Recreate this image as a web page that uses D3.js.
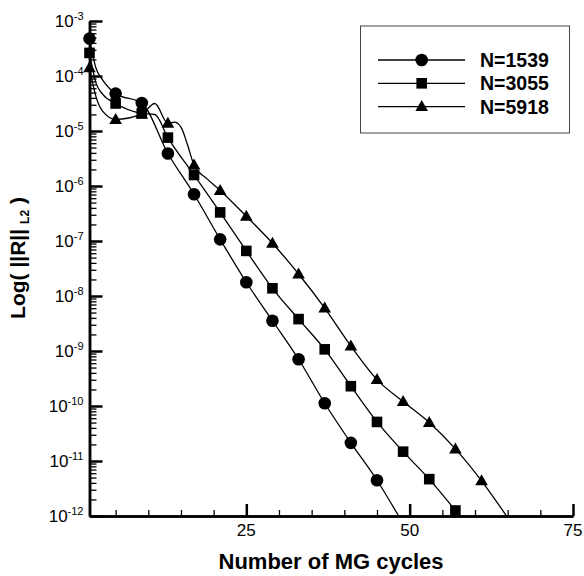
<!DOCTYPE html>
<html>
<head>
<meta charset="utf-8">
<script src="https://cdn.jsdelivr.net/npm/d3@7"></script>
<style>
  body { margin: 0; background: #fff; }
  svg { display: block; font-family: "Liberation Sans", Arial, sans-serif; }
</style>
</head>
<body>
<svg></svg>
<script>
// cycles (markers are drawn every 4th cycle: 1, 5, 9, ...)
const cycles1539 = [1, 2, 3, 5, 9, 13, 17, 21, 25, 29, 33, 37, 41, 45, 49];
const cycles3055 = [1, 2, 3, 5, 9, 11, 13, 17, 21, 25, 29, 33, 37, 41, 45, 49, 53, 57];
const cycles5918 = [1, 2, 3, 5, 9, 11, 13, 14, 15, 16, 17, 19, 21, 25, 29, 33, 37, 41, 45, 49, 53, 57, 61, 65];

// log10 of the L2 residual, per grid size
const logR1539 = [-3.32, -3.86, -4.07, -4.32, -4.49, -5.41, -6.15, -6.97, -7.75, -8.45, -9.15, -9.95, -10.67, -11.35, -12.14];
const logR3055 = [-3.58, -4.13, -4.33, -4.50, -4.68, -4.70, -5.12, -5.80, -6.48, -7.18, -7.86, -8.42, -8.97, -9.64, -10.29, -10.83, -11.33, -11.90];
const logR5918 = [-3.85, -4.38, -4.64, -4.79, -4.69, -4.50, -4.86, -4.84, -4.93, -5.25, -5.62, -5.87, -6.08, -6.55, -7.04, -7.60, -8.22, -8.91, -9.52, -9.92, -10.30, -10.78, -11.36, -12.03];

const seriesNames = ["N=1539", "N=3055", "N=5918"];
const seriesShapes = ["circle", "square", "triangle"];

const xMajor = [25, 50, 75];
const xMinor = [5, 10, 15, 20, 30, 35, 40, 45, 55, 60, 65, 70];
const yExponents = [-12, -11, -10, -9, -8, -7, -6, -5, -4, -3];

const W = 584, H = 576;
const plot = { left: 89.5, right: 573, top: 21, bottom: 516 };

const svg = d3.select("svg").attr("width", W).attr("height", H);

const x = d3.scaleLinear().domain([1, 75]).range([plot.left, plot.right]);
const y = d3.scaleLog().domain([1e-12, 1e-3]).range([plot.bottom, plot.top]);

// minor log ticks 2..9 in every decade
const yMinor = [];
yExponents.slice(0, -1).forEach(e => {
  for (let k = 2; k <= 9; k++) yMinor.push(k * Math.pow(10, e));
});

// ---- axes ----
const styleAxis = (g, w) => {
  g.selectAll(".domain").attr("stroke", "#000").attr("stroke-width", 2.5);
  g.selectAll(".tick line").attr("stroke", "#000").attr("stroke-width", w);
  g.selectAll(".tick text").remove();
};

svg.append("g")
  .attr("transform", `translate(${plot.left},0)`)
  .call(d3.axisLeft(y).tickValues(yMinor).tickSizeInner(-7).tickSizeOuter(0))
  .call(g => styleAxis(g, 1.3));

svg.append("g")
  .attr("transform", `translate(${plot.left},0)`)
  .call(d3.axisLeft(y).tickValues(yExponents.map(e => Math.pow(10, e))).tickSizeInner(-13).tickSizeOuter(0))
  .call(g => styleAxis(g, 2.5));

svg.append("g")
  .attr("transform", `translate(0,${plot.bottom})`)
  .call(d3.axisBottom(x).tickValues(xMinor).tickSizeInner(-6).tickSizeOuter(0))
  .call(g => styleAxis(g, 1.3));

svg.append("g")
  .attr("transform", `translate(0,${plot.bottom})`)
  .call(d3.axisBottom(x).tickValues(xMajor).tickSizeInner(-12).tickSizeOuter(0))
  .call(g => styleAxis(g, 2.5));

// y tick labels with superscript exponents
const yLab = svg.append("g").attr("font-size", 17).attr("text-anchor", "end");
yExponents.forEach(e => {
  const t = yLab.append("text")
    .attr("x", plot.left - 6)
    .attr("y", y(Math.pow(10, e)) + 6);
  t.append("tspan").text("10");
  t.append("tspan").attr("font-size", 11).attr("dy", -7).text(e);
});

// x tick labels
svg.append("g").attr("font-size", 17).attr("text-anchor", "middle")
  .selectAll("text").data(xMajor).join("text")
  .attr("x", d => x(d)).attr("y", 536).text(d => d);

// axis titles
svg.append("text")
  .attr("x", 331).attr("y", 569)
  .attr("text-anchor", "middle").attr("font-size", 22).attr("font-weight", "bold")
  .text("Number of MG cycles");

const yt = svg.append("text")
  .attr("transform", "translate(25,258) rotate(-90)")
  .attr("text-anchor", "middle").attr("font-size", 21).attr("font-weight", "bold");
yt.append("tspan").text("Log( ||R||");
yt.append("tspan").attr("font-size", 12).attr("dx", 5).attr("dy", 3.5).text("L2");
yt.append("tspan").attr("dy", -3.5).text(" )");

// ---- series ----
svg.append("clipPath").attr("id", "plotClip")
  .append("rect").attr("x", plot.left).attr("y", plot.top)
  .attr("width", plot.right - plot.left).attr("height", plot.bottom - plot.top);

const allCycles = [cycles1539, cycles3055, cycles5918];
const allSeries = [logR1539, logR3055, logR5918].map((vals, i) => ({
  name: seriesNames[i],
  shape: seriesShapes[i],
  points: vals.map((v, j) => ({ n: allCycles[i][j], r: Math.pow(10, v) }))
}));

const line = d3.line()
  .x(d => x(d.n))
  .y(d => y(d.r))
  .curve(d3.curveMonotoneX);

svg.append("g").attr("clip-path", "url(#plotClip)")
  .selectAll("path").data(allSeries).join("path")
  .attr("d", s => line(s.points))
  .attr("fill", "none").attr("stroke", "#000").attr("stroke-width", 1.3);

function drawMarker(g, shape, cx, cy) {
  if (shape === "circle") {
    g.append("circle").attr("cx", cx).attr("cy", cy).attr("r", 6.3).attr("fill", "#000");
  } else if (shape === "square") {
    g.append("rect").attr("x", cx - 5.3).attr("y", cy - 5.3)
      .attr("width", 10.6).attr("height", 10.6).attr("fill", "#000");
  } else {
    g.append("path")
      .attr("d", `M${cx},${cy - 6.5}L${cx + 6.3},${cy + 4.5}L${cx - 6.3},${cy + 4.5}Z`)
      .attr("fill", "#000");
  }
}

const markers = svg.append("g");
allSeries.forEach(s => {
  s.points
    .filter(p => (p.n - 1) % 4 === 0 && y(p.r) <= plot.bottom)
    .forEach(p => drawMarker(markers, s.shape, x(p.n), y(p.r)));
});

// ---- legend ----
const legend = svg.append("g");
legend.append("rect")
  .attr("x", 360.5).attr("y", 26).attr("width", 209).attr("height", 107)
  .attr("fill", "#fff").attr("stroke", "#444").attr("stroke-width", 1);

allSeries.forEach((s, i) => {
  const ly = 60 + i * 23.3;
  legend.append("line")
    .attr("x1", 378).attr("x2", 465).attr("y1", ly).attr("y2", ly)
    .attr("stroke", "#000").attr("stroke-width", 1.3);
  drawMarker(legend, s.shape, 421.7, ly);
  legend.append("text")
    .attr("x", 480).attr("y", ly + 7)
    .attr("font-size", 19.5).attr("font-weight", "bold")
    .text(s.name);
});
</script>
</body>
</html>
